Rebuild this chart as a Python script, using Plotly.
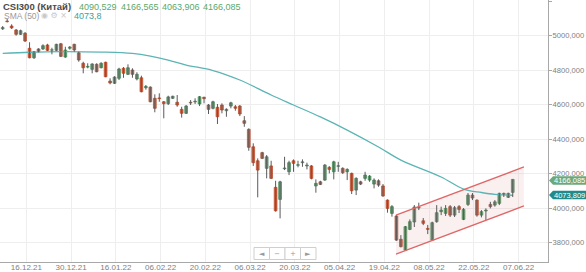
import plotly.graph_objects as go

# ---------------- data ----------------
tick_labels = ["16.12.21", "30.12.21", "16.01.22", "06.02.22", "20.02.22", "06.03.22",
               "20.03.22", "05.04.22", "19.04.22", "08.05.22", "22.05.22", "07.06.22"]
tick_pos = [6.3 + 10 * j for j in range(len(tick_labels))]

opens = [5039, 5084, 5055, 5032, 5007, 5013, 4926, 4871, 4922, 4922,
         4945, 4915, 4914, 4952, 4875, 4926, 4949, 4900, 4839, 4817,
         4804, 4833, 4813, 4845, 4736, 4723, 4752, 4810, 4775, 4800,
         4748, 4755, 4697, 4701, 4636, 4638, 4616, 4605, 4636, 4613,
         4572, 4549, 4613, 4615, 4603, 4642, 4597, 4578, 4584, 4597,
         4564, 4591, 4587, 4591, 4506, 4456, 4355, 4274, 4321, 4230,
         4244, 4120, 4050, 4228, 4210, 4274, 4248, 4263, 4244, 4244,
         4128, 4152, 4162, 4236, 4210, 4242, 4230, 4210, 4201, 4104,
         4152, 4172, 4162, 4139, 4158, 4128, 4046, 3969, 3954, 3819,
         3756, 3876, 3919, 4000, 3926, 3882, 3814, 3921, 3979, 3969,
         4008, 3959, 4008, 3934, 4021, 4075, 4046, 3959, 3983, 4021,
         4017, 4027, 4085, 4062, 4090.529]
highs = [5055, 5096, 5065, 5038, 5034, 5020, 4961, 4910, 4926, 4949,
         4952, 4929, 4952, 4957, 4935, 4939, 4952, 4906, 4848, 4839,
         4839, 4839, 4845, 4848, 4752, 4764, 4813, 4817, 4833, 4810,
         4787, 4767, 4713, 4705, 4659, 4665, 4620, 4651, 4651, 4655,
         4587, 4597, 4626, 4636, 4649, 4645, 4603, 4622, 4603, 4607,
         4578, 4616, 4597, 4597, 4533, 4462, 4375, 4288, 4326, 4307,
         4274, 4158, 4158, 4297, 4274, 4282, 4274, 4282, 4263, 4249,
         4166, 4158, 4255, 4243, 4274, 4268, 4236, 4230, 4205, 4178,
         4158, 4210, 4191, 4172, 4166, 4139, 4050, 4017, 3959, 3843,
         3896, 3934, 4017, 4031, 3942, 3902, 3921, 4017, 4008, 4017,
         4017, 4012, 4017, 4000, 4087, 4087, 4050, 3988, 3998, 4036,
         4046, 4089, 4089, 4089, 4166.565]
lows = [5032, 5076, 5038, 4999, 5003, 4962, 4868, 4864, 4903, 4916,
        4910, 4891, 4910, 4875, 4871, 4918, 4906, 4848, 4781, 4810,
        4781, 4787, 4810, 4758, 4717, 4719, 4742, 4755, 4771, 4755,
        4740, 4671, 4686, 4613, 4555, 4616, 4520, 4597, 4632, 4587,
        4524, 4545, 4597, 4603, 4591, 4607, 4545, 4572, 4487, 4549,
        4529, 4578, 4564, 4533, 4471, 4332, 4244, 4062, 4284, 4172,
        4168, 3979, 3940, 4220, 4191, 4210, 4236, 4239, 4224, 4166,
        4089, 4133, 4158, 4201, 4166, 4210, 4197, 4162, 4081, 4075,
        4133, 4158, 4152, 4114, 4123, 4065, 3973, 3950, 3810, 3772,
        3752, 3872, 3890, 3988, 3901, 3849, 3810, 3915, 3959, 3954,
        3948, 3948, 3971, 3930, 4012, 4046, 3950, 3946, 3930, 3998,
        4008, 4017, 4064, 4058, 4063.906]
closes = [5046, 5080, 5044, 5007, 5028, 4968, 4871, 4906, 4906, 4941,
          4914, 4917, 4949, 4879, 4916, 4933, 4916, 4858, 4813, 4821,
          4835, 4790, 4839, 4761, 4725, 4759, 4806, 4781, 4813, 4775,
          4775, 4674, 4705, 4616, 4578, 4634, 4605, 4644, 4648, 4597,
          4549, 4591, 4609, 4619, 4645, 4634, 4572, 4616, 4529, 4568,
          4572, 4610, 4578, 4545, 4491, 4352, 4263, 4220, 4288, 4297,
          4172, 3984, 4152, 4232, 4263, 4259, 4251, 4268, 4249, 4172,
          4143, 4137, 4249, 4224, 4268, 4245, 4205, 4224, 4100, 4172,
          4139, 4191, 4185, 4162, 4133, 4070, 3998, 4008, 3814, 3776,
          3892, 3921, 4006, 4004, 3911, 3876, 3915, 3973, 3988, 3998,
          3959, 4002, 3992, 3992, 4075, 4058, 3959, 3979, 3988, 4008,
          4036, 4085, 4079, 4085, 4166.085]

sma_idx = [1, 7, 14, 23, 30, 34, 38, 42, 48, 54, 61, 66, 72, 78, 85, 90, 99, 104, 108, 111, 115]
sma_val = [4896, 4903, 4907, 4904, 4896, 4881, 4858, 4829, 4797, 4742, 4655, 4597,
           4528, 4452, 4354, 4278, 4180, 4110, 4090, 4079, 4074]

channel_x = [88.9, 117.5]
channel_upper = [3959, 4238]
channel_lower = [3733, 4012]

y_ticks = [3800, 4000, 4200, 4400, 4600, 4800, 5000, 5200]
header_values = ["4090,529", "4166,565", "4063,906", "4166,085"]
last_close_label = "4166,085"
sma_label = "4073,809"
sma_header = "4073,8"

# ---------------- figure ----------------
W, H = 586, 272
ML, MR, MT, MB = 0, 38, 0, 10
PW, PH = W - ML - MR, H - MT - MB

def px(x):
    return x / PW

def py(y):
    return 1 - y / PH

FONT = "Liberation Sans, Arial, sans-serif"
UP_FILL, UP_LINE = "#64a575", "#3f8052"
DN_FILL, DN_LINE = "#d8603c", "#b04528"

idx = list(range(1, len(opens) + 1))

fig = go.Figure()

# channel fill
fig.add_trace(go.Scatter(
    x=[channel_x[0], channel_x[1], channel_x[1], channel_x[0], channel_x[0]],
    y=[channel_upper[0], channel_upper[1], channel_lower[1], channel_lower[0], channel_upper[0]],
    fill="toself", fillcolor="rgba(215,140,140,0.13)", line=dict(width=0),
    mode="lines", hoverinfo="skip", showlegend=False))

# SMA
fig.add_trace(go.Scatter(x=sma_idx, y=sma_val, mode="lines",
                         line=dict(color="#5cb4b4", width=1.3, shape="spline"),
                         showlegend=False))

# wicks
wx, wy = [], []
for i, h, l in zip(idx, highs, lows):
    wx += [i, i, None]
    wy += [h, l, None]
fig.add_trace(go.Scatter(x=wx, y=wy, mode="lines", line=dict(color="#5a5a5a", width=1),
                         hoverinfo="skip", showlegend=False))

# bodies
for up in (True, False):
    xs, base, hgt = [], [], []
    for i, o, c in zip(idx, opens, closes):
        if (c >= o) == up:
            xs.append(i)
            base.append(min(o, c))
            hgt.append(max(abs(c - o), 0.8))
    fig.add_trace(go.Bar(x=xs, y=hgt, base=base, width=0.62,
                         marker=dict(color=UP_FILL if up else DN_FILL,
                                     line=dict(color=UP_LINE if up else DN_LINE, width=0.7)),
                         showlegend=False))

# channel lines
for ys in (channel_upper, channel_lower):
    fig.add_trace(go.Scatter(x=channel_x, y=ys, mode="lines",
                             line=dict(color="#e06666", width=1.3), showlegend=False))

fig.update_layout(
    width=W, height=H, margin=dict(l=ML, r=MR, t=MT, b=MB),
    paper_bgcolor="white", plot_bgcolor="white", barmode="overlay",
    font=dict(family=FONT, size=9, color="#777"),
    showlegend=False,
    xaxis=dict(range=[0.396, 122.88], tickmode="array", tickvals=tick_pos, ticktext=tick_labels,
               showgrid=True, gridcolor="#eeeeee", gridwidth=1, zeroline=False,
               showline=True, linecolor="#a8a8a8", linewidth=1, ticks="",
               ticklabelstandoff=-3,
               tickfont=dict(size=8, color="#808080"), automargin=False, fixedrange=True),
    yaxis=dict(range=[3687.2, 5205.8], side="right", tickmode="array", tickvals=y_ticks,
               ticktext=[f"{v},000" for v in y_ticks],
               showgrid=True, gridcolor="#eeeeee", gridwidth=1, zeroline=False,
               showline=True, linecolor="#a8a8a8", linewidth=1,
               ticks="outside", ticklen=3, tickcolor="#a8a8a8", ticklabelstandoff=-1,
               tickfont=dict(size=7.6, color="#808080"), automargin=False),
)

ann = []
# header
ann.append(dict(text="<b>CSI300 (Китай)</b>", x=px(1), y=py(6.5), xref="paper", yref="paper",
                xanchor="left", yanchor="middle", showarrow=False,
                font=dict(size=9.5, color="#4a4a4a", family=FONT)))
for txt, xp in zip(header_values, [77, 119, 160, 201]):
    ann.append(dict(text=txt, x=px(xp), y=py(6.5), xref="paper", yref="paper",
                    xanchor="left", yanchor="middle", showarrow=False,
                    font=dict(size=9, color="#5aa86c", family=FONT)))
ann.append(dict(text="SMA (50)", x=px(2), y=py(15.5), xref="paper", yref="paper",
                xanchor="left", yanchor="middle", showarrow=False,
                font=dict(size=8.5, color="#9a9a9a", family=FONT)))
ann.append(dict(text="◉ ⚙ ×", x=px(39), y=py(15.5), xref="paper", yref="paper",
                xanchor="left", yanchor="middle", showarrow=False,
                font=dict(size=8, color="#c8c8c8", family="DejaVu Sans")))
ann.append(dict(text=sma_header, x=px(72), y=py(15.5), xref="paper", yref="paper",
                xanchor="left", yanchor="middle", showarrow=False,
                font=dict(size=9, color="#3a9fa0", family=FONT)))

shapes = []
# price tags on right axis
for label, cy, col in [(last_close_label, 180.5, "#6aa97c"), (sma_label, 195.0, "#1f8b8b")]:
    t, b = cy - 4.3, cy + 4.3
    path = (f"M {px(549)},{py(cy)} L {px(553)},{py(t)} L {px(586)},{py(t)} "
            f"L {px(586)},{py(b)} L {px(553)},{py(b)} Z")
    shapes.append(dict(type="path", path=path, xref="paper", yref="paper",
                       fillcolor=col, line=dict(width=0), layer="above"))
    ann.append(dict(text=label, x=px(569.5), y=py(cy), xref="paper", yref="paper",
                    xanchor="center", yanchor="middle", showarrow=False,
                    font=dict(size=7.5, color="white", family=FONT)))

# navigation buttons
bx0, bw, by0, by1 = 254, 15.5, 247.5, 259.5
for k, sym in enumerate(["◄", "−", "+", "►"]):
    x0 = bx0 + k * bw
    shapes.append(dict(type="rect", xref="paper", yref="paper",
                       x0=px(x0), x1=px(x0 + bw), y0=py(by1), y1=py(by0),
                       fillcolor="white", line=dict(color="#cfcfcf", width=1), layer="above"))
    ann.append(dict(text=sym, x=px(x0 + bw / 2), y=py((by0 + by1) / 2), xref="paper", yref="paper",
                    xanchor="center", yanchor="middle", showarrow=False,
                    font=dict(size=7, color="#9a9a9a", family="DejaVu Sans")))

fig.update_layout(annotations=ann, shapes=shapes)
fig.write_html("out.html")
